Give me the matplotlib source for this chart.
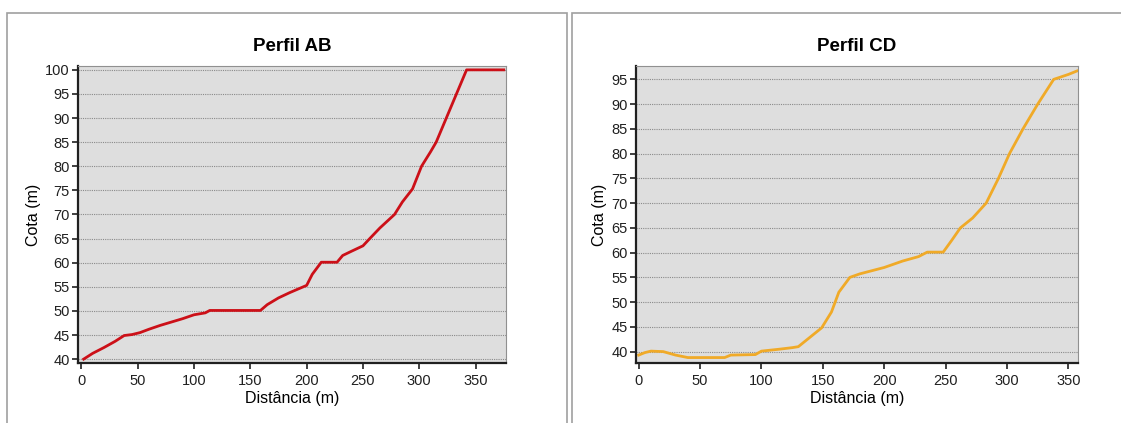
import matplotlib
matplotlib.use("Agg")
import matplotlib.pyplot as plt
from matplotlib.patches import Rectangle

plt.rcParams['font.family'] = ['Liberation Sans', 'DejaVu Sans']

# Perfil AB (distance in m, elevation in m)
dist_ab = [2, 10, 20, 30, 38, 45, 52, 60, 70, 80, 90, 100, 110, 114, 159, 165, 175, 185,
           195, 200, 205, 213, 227, 232, 240, 250, 256, 265, 278, 285, 294, 302, 310, 315,
           324, 333, 342, 375]
cota_ab = [40, 41.2, 42.4, 43.7, 44.9, 45.1, 45.5, 46.2, 47.0, 47.7, 48.4, 49.2, 49.6, 50.1,
           50.1, 51.3, 52.7, 53.8, 54.8, 55.3, 57.6, 60.1, 60.1, 61.5, 62.4, 63.5, 65, 67.2,
           70, 72.6, 75.3, 80, 83, 85, 90, 95, 100, 100]

# Perfil CD
dist_cd = [0, 5, 10, 20, 30, 40, 50, 70, 75, 95, 100, 115, 125, 130, 140, 149, 157, 163,
           172, 180, 200, 215, 228, 235, 248, 255, 262, 272, 283, 293, 302, 313, 325, 338,
           350, 357]
cota_cd = [39.3, 39.8, 40.1, 40.0, 39.3, 38.8, 38.8, 38.8, 39.3, 39.4, 40.1, 40.5, 40.8, 41.0,
           43.0, 44.8, 48.0, 52.0, 55.0, 55.7, 57.0, 58.3, 59.2, 60.1, 60.1, 62.5, 65.0, 67.0,
           70.0, 75.0, 80.0, 85.0, 90.0, 95.0, 96.0, 96.7]

W, H = 1121, 423
fig = plt.figure(figsize=(W / 100, H / 100), dpi=100)

# panel frames like the screenshot
for x0, x1 in [(7, 567), (572, 1125)]:
    fig.patches.append(Rectangle((x0 / W, -0.05), (x1 - x0) / W, (H - 13) / H + 0.05,
                                 transform=fig.transFigure, fill=False,
                                 edgecolor='#a0a0a0', linewidth=1.2))


def make_panel(box, x, y, color, title, xlim, ylim, yticks):
    l, r, t, b = box
    ax = fig.add_axes([l / W, (H - b) / H, (r - l) / W, (b - t) / H])
    ax.set_facecolor('#dedede')
    ax.plot(x, y, color=color, linewidth=2.0, solid_joinstyle='round')
    ax.set_xlim(*xlim)
    ax.set_ylim(*ylim)
    ax.set_xticks(range(0, 351, 50))
    ax.set_yticks(yticks)
    ax.yaxis.grid(True, linestyle=(0, (1, 1)), color='#8a8a8a', linewidth=0.8)
    ax.set_axisbelow(True)
    for s in ['top', 'right']:
        ax.spines[s].set_color('#909090')
        ax.spines[s].set_linewidth(0.8)
    for s in ['left', 'bottom']:
        ax.spines[s].set_color('#202020')
        ax.spines[s].set_linewidth(1.6)
    ax.tick_params(labelsize=10.5, colors='#202020', length=4, width=1.2)
    ax.tick_params(axis='x', pad=4)
    ax.tick_params(axis='y', pad=2)
    ax.set_xlabel('Distância (m)', fontsize=11.5, labelpad=2)
    ax.set_ylabel('Cota (m)', fontsize=11.5, labelpad=3)
    ax.set_title(title, fontsize=13.5, fontweight='bold', pad=11)
    return ax


make_panel((78, 506, 66, 363), dist_ab, cota_ab, '#cc1018', 'Perfil AB',
           (-3, 377), (39.2, 100.8), range(40, 101, 5))
make_panel((636, 1078, 66, 363), dist_cd, cota_cd, '#f0aa28', 'Perfil CD',
           (-2.2, 357.8), (37.7, 97.7), range(40, 96, 5))

fig.savefig('out.png', dpi=100, facecolor='white')
